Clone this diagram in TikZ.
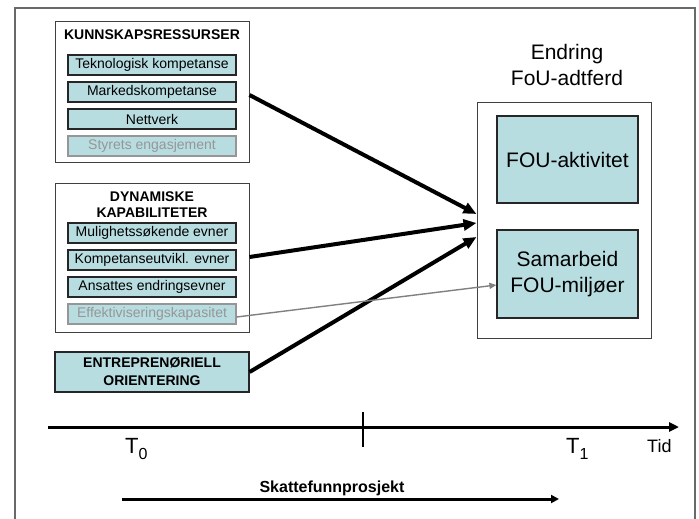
\documentclass[tikz,border=0pt]{standalone}
\usepackage{fontspec}
\setmainfont{Liberation Sans}
\usetikzlibrary{arrows.meta, positioning, calc}
\definecolor{boxfill}{RGB}{184,221,225}
\definecolor{framegray}{RGB}{105,105,105}
\definecolor{fadegray}{RGB}{150,150,150}
\newcommand{\tsub}[1]{T\raisebox{-6pt}{\fontsize{16}{16}\selectfont #1}}

\tikzset{
  groupbox/.style={draw=black!75, line width=1pt, minimum width=194pt, inner sep=0pt},
  itembox/.style={draw=black!85, line width=1.2pt, fill=boxfill, minimum width=168pt,
    minimum height=20pt, inner sep=0pt, font=\fontsize{14}{16}\selectfont},
  fadeitem/.style={itembox, draw=fadegray, text=fadegray},
  grouptitle/.style={align=center, inner sep=0pt, font=\fontsize{14}{16}\selectfont\bfseries},
  bigtext/.style={align=center, inner sep=0pt, font=\fontsize{21}{26}\selectfont},
  effect/.style={-{Triangle[length=13pt,width=11pt]}, line width=4pt},
  weakeffect/.style={-{Triangle[length=7pt,width=6pt]}, line width=1.4pt, fadegray!85!black},
  timeaxis/.style={-{Triangle[length=10pt,width=9pt]}, line width=3pt}
}

\begin{document}
\begin{tikzpicture}[x=1pt, y=-1pt]
\useasboundingbox (0,0) rectangle (699,519);
% outer frame
\draw[framegray, line width=1.3pt] (15,530) -- (15,8) -- (695,8) -- (695,530);

% Kunnskapsressurser
\node[groupbox, minimum height=140pt] (kr) at (152,92) {};
\node[grouptitle] (krtitle) at (152,35) {KUNNSKAPSRESSURSER};
\node[itembox] (tk) at (152,65) {Teknologisk kompetanse};
\node[itembox] (mk) at (152,92) {Markedskompetanse};
\node[itembox] (nv) at (152,119) {Nettverk};
\node[fadeitem] (st) at (152,146) {Styrets engasjement};

% Dynamiske kapabiliteter
\node[groupbox, minimum height=149pt] (dk) at (152,257.5) {};
\node[grouptitle] (dktitle) at (152,205) {DYNAMISKE\\KAPABILITETER};
\node[itembox] (ms) at (152,233) {Mulighetssøkende evner};
\node[itembox] (kp) at (152,260) {Kompetanseutvikl. evner};
\node[itembox] (ae) at (152,287) {Ansattes endringsevner};
\node[fadeitem] (eff) at (152,314) {Effektiviseringskapasitet};

% Entreprenoriell orientering
\node[itembox, minimum width=194pt, minimum height=40pt, align=center,
  font=\fontsize{14}{18}\selectfont\bfseries] (ent) at (152,372) {ENTREPRENØRIELL\\ORIENTERING};

% Endring FoU-adtferd
\node[bigtext] (endr) at (567,65) {Endring\\FoU-adtferd};
\node[groupbox, minimum width=174pt, minimum height=236pt] (out) at (564,220) {};
\node[itembox, bigtext, minimum width=141pt, minimum height=87pt] (fou) at (567.5,159.5) {FOU-aktivitet};
\node[itembox, bigtext, minimum width=141pt, minimum height=88pt] (sam) at (567.5,274) {Samarbeid\\FOU-miljøer};

% effects
\draw[effect] ([yshift=-3pt]kr.east |- mk) -- ([yshift=6pt]out.west);
\draw[effect] ([yshift=3pt]dk.east |- kp) -- ([yshift=-3pt]out.west);
\draw[effect] (ent.east) -- ([yshift=-17pt]out.west);
\draw[weakeffect] ([yshift=-3pt]eff.east) -- ([yshift=-11pt]sam.west);

% time axis
\coordinate (tstart) at (48,427);
\coordinate (tstop) at (679,427);
\coordinate (tickup) at (363,412);
\coordinate (tickdn) at (363,447);
\draw[timeaxis] (tstart) -- (tstop);
\draw[line width=1.8pt] (tickup) -- (tickdn);
\node[font=\fontsize{22}{22}\selectfont, anchor=base west, inner sep=0pt] (t0) at (125,453) {\tsub{0}};
\node[font=\fontsize{22}{22}\selectfont, anchor=base west, inner sep=0pt] (t1) at (566,453) {\tsub{1}};
\node[font=\fontsize{18}{18}\selectfont, anchor=base west, inner sep=0pt] (tid) at (647,452) {Tid};

% prosjekt
\node[font=\fontsize{16}{16}\selectfont\bfseries, anchor=base, inner sep=0pt] (proj) at (332,492) {Skattefunnprosjekt};
\coordinate (pstart) at (122,499);
\coordinate (pstop) at (559,499);
\draw[timeaxis, -{Triangle[length=8pt,width=8pt]}] (pstart) -- (pstop);
\end{tikzpicture}
\end{document}
